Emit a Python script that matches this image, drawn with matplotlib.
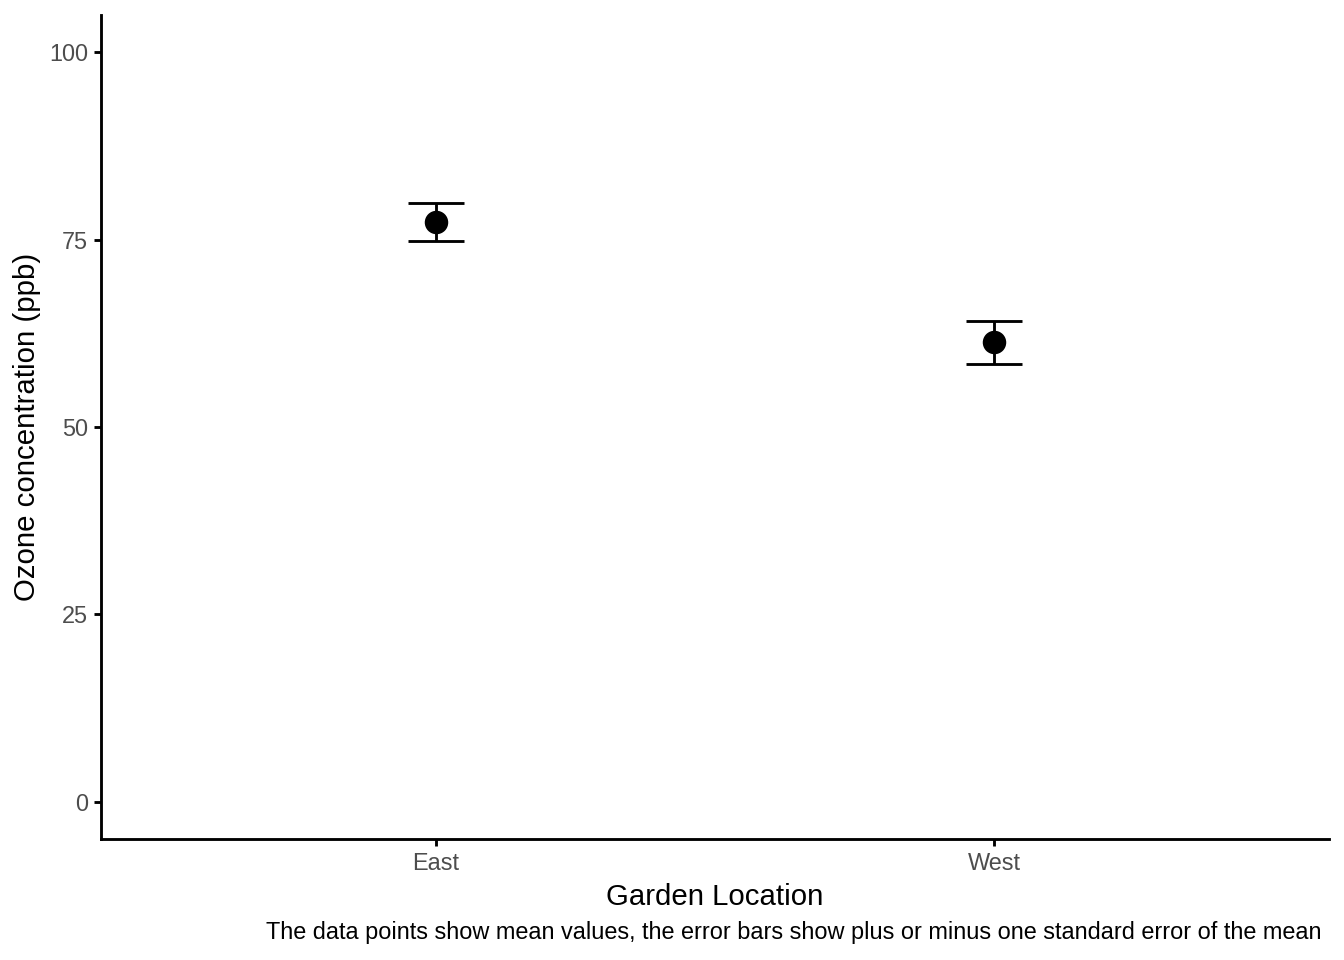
import numpy as np
import matplotlib
matplotlib.use("Agg")
import matplotlib.pyplot as plt

# summary values
locations = ["East", "West"]
means = [77.35, 61.3]
ses = [2.5, 2.84]
y_ticks = [0, 25, 50, 75, 100]

plt.rcParams['font.family'] = ['Liberation Sans', 'DejaVu Sans']

fig = plt.figure(figsize=(7, 5), dpi=192)
ax = fig.add_axes([101 / 1344, 121 / 960, 1228 / 1344, 824 / 960])

x = np.arange(1, len(locations) + 1)
ax.errorbar(x, means, yerr=ses, fmt="none", ecolor="black", elinewidth=1.07,
            capsize=10.5, capthick=1.07, zorder=2)
ax.plot(x, means, "o", color="black", markersize=7.8, zorder=3)

ax.set_xlim(0.4, 2.6)
ax.set_ylim(-5, 105)
ax.set_xticks(x)
ax.set_xticklabels(locations)
ax.set_yticks(y_ticks)

for side in ["top", "right"]:
    ax.spines[side].set_visible(False)
for side in ["left", "bottom"]:
    ax.spines[side].set_linewidth(1.07)
ax.tick_params(axis="both", length=2.75, width=1.07, colors="#4d4d4d",
               labelsize=8.8, pad=2.2)
ax.tick_params(axis="both", color="black")

ax.set_xlabel("Garden Location", fontsize=11, labelpad=2.75)
ax.set_ylabel("Ozone concentration (ppb)", fontsize=11, labelpad=2.75)

fig.text(1322 / 1344, 1 - 933 / 960, "The data points show mean values, the error bars show "
         "plus or minus one standard error of the mean",
         ha="right", va="center", fontsize=8.8)

fig.savefig("out.png", dpi=192)
